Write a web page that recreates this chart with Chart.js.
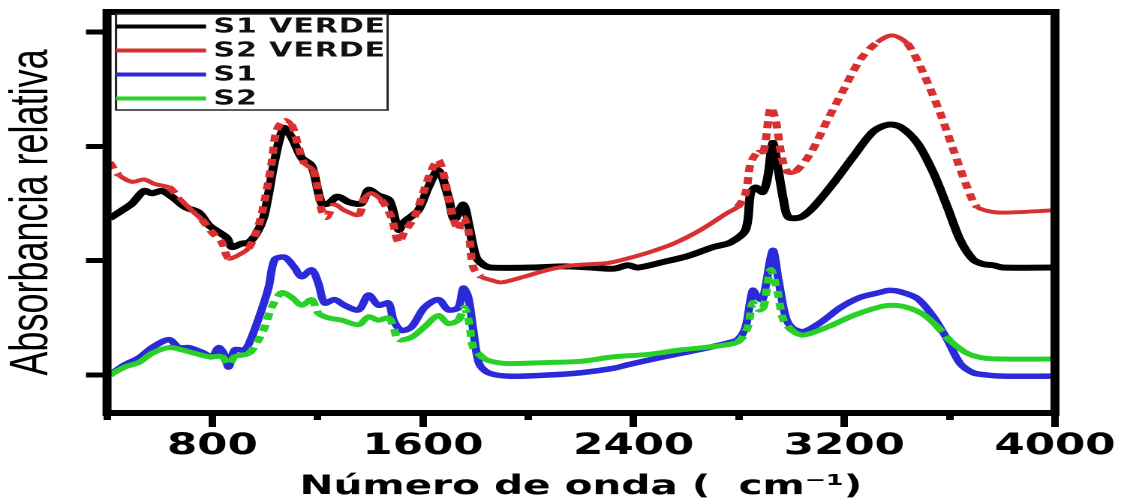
<!DOCTYPE html>
<html>
<head>
<meta charset="utf-8">
<script src="https://cdn.jsdelivr.net/npm/chart.js@4.4.0/dist/chart.umd.min.js"></script>
<style>
  html, body { margin: 0; padding: 0; background: #fff; overflow: hidden; }
  /* the figure is horizontally stretched, so draw narrow and stretch it */
  #wrap { width: 747px; height: 503px; transform: scaleX(1.5007); transform-origin: 0 0; }
</style>
</head>
<body>
<div id="wrap"><canvas id="myChart"></canvas></div>
<script>
// wavenumber (cm-1) and relative absorbance
const s1VerdeX = [410, 457, 495, 540, 571, 608, 646, 696, 749, 787, 824, 855, 874, 912, 938, 968, 995, 1014, 1037, 1071,
  1101, 1139, 1177, 1215, 1241, 1275, 1321, 1366, 1393, 1431, 1472, 1507, 1529, 1582, 1620, 1658, 1696, 1719, 1753, 1776,
  1802, 1832, 1859, 2011, 2136, 2238, 2325, 2378, 2416, 2515, 2605, 2704, 2768, 2825, 2844, 2863, 2890, 2909, 2928, 2947,
  2969, 2988, 3034, 3083, 3159, 3234, 3310, 3367, 3413, 3477, 3538, 3591, 3640, 3689, 3727, 3765, 3803, 3995]
const s1VerdeY = [1.37, 1.44, 1.50, 1.61, 1.59, 1.61, 1.56, 1.47, 1.42, 1.31, 1.25, 1.20, 1.12, 1.15, 1.16, 1.24, 1.38, 1.59, 1.88, 2.16,
  2.08, 1.90, 1.83, 1.50, 1.50, 1.56, 1.51, 1.50, 1.62, 1.57, 1.53, 1.27, 1.34, 1.44, 1.64, 1.79, 1.56, 1.36, 1.49, 1.29,
  1.03, 0.96, 0.94, 0.94, 0.95, 0.94, 0.93, 0.96, 0.94, 0.99, 1.04, 1.12, 1.16, 1.27, 1.59, 1.64, 1.60, 1.73, 2.03, 1.82,
  1.53, 1.38, 1.38, 1.47, 1.68, 1.91, 2.13, 2.19, 2.17, 2.03, 1.77, 1.47, 1.18, 1.01, 0.97, 0.96, 0.94, 0.94]

const s2VerdeX = [410, 445, 495, 540, 582, 635, 673, 722, 760, 798, 836, 862, 900, 938, 976, 999, 1025, 1044, 1075, 1101,
  1128, 1150, 1184, 1215, 1234, 1264, 1302, 1355, 1378, 1404, 1442, 1480, 1507, 1529, 1567, 1605, 1632, 1658, 1681, 1707,
  1734, 1753, 1772, 1791, 1821, 1859, 1897, 1984, 2075, 2173, 2302, 2378, 2454, 2552, 2655, 2757, 2795, 2825, 2844, 2871,
  2893, 2920, 2939, 2965, 2988, 3015, 3072, 3136, 3196, 3261, 3325, 3382, 3439, 3500, 3564, 3614, 3667, 3704, 3754, 3803, 3995]
const s2VerdeY = [1.86, 1.75, 1.69, 1.71, 1.67, 1.64, 1.55, 1.44, 1.36, 1.25, 1.16, 1.02, 1.05, 1.11, 1.31, 1.53, 1.85, 2.14, 2.23, 2.19,
  1.99, 1.85, 1.79, 1.44, 1.38, 1.49, 1.44, 1.40, 1.55, 1.59, 1.53, 1.38, 1.16, 1.25, 1.38, 1.62, 1.79, 1.88, 1.73, 1.44,
  1.27, 1.38, 1.27, 0.94, 0.86, 0.83, 0.81, 0.86, 0.92, 0.96, 0.98, 1.02, 1.07, 1.15, 1.27, 1.42, 1.47, 1.59, 1.85, 1.95,
  1.95, 2.34, 2.23, 1.88, 1.77, 1.78, 1.94, 2.23, 2.49, 2.76, 2.91, 2.97, 2.90, 2.64, 2.29, 1.97, 1.64, 1.47, 1.43, 1.42, 1.44]

const s1X = [410, 468, 521, 571, 635, 673, 711, 760, 798, 824, 843, 862, 885, 923, 949, 987, 1014, 1037, 1075, 1112,
  1139, 1177, 1203, 1226, 1264, 1302, 1355, 1393, 1431, 1469, 1488, 1518, 1556, 1605, 1658, 1696, 1734, 1753, 1772, 1791,
  1813, 1848, 1923, 2075, 2200, 2325, 2378, 2515, 2643, 2757, 2795, 2825, 2852, 2871, 2890, 2928, 2950, 2977, 3003, 3045,
  3110, 3185, 3261, 3330, 3370, 3410, 3477, 3538, 3591, 3640, 3689, 3742, 3803, 3995]
const s1Y = [0.00, 0.09, 0.15, 0.24, 0.31, 0.24, 0.24, 0.20, 0.16, 0.24, 0.19, 0.07, 0.22, 0.22, 0.33, 0.57, 0.77, 1.01, 1.03, 0.94,
  0.86, 0.92, 0.80, 0.63, 0.66, 0.61, 0.57, 0.70, 0.61, 0.63, 0.48, 0.39, 0.42, 0.59, 0.66, 0.57, 0.59, 0.76, 0.68, 0.39,
  0.10, 0.02, -0.01, 0.00, 0.02, 0.06, 0.09, 0.16, 0.22, 0.28, 0.31, 0.42, 0.74, 0.68, 0.66, 1.09, 0.83, 0.51, 0.41, 0.38,
  0.46, 0.59, 0.68, 0.72, 0.74, 0.73, 0.67, 0.51, 0.31, 0.10, 0.02, 0.00, -0.01, -0.01]

const s2X = [410, 468, 521, 571, 635, 684, 733, 787, 836, 862, 885, 938, 976, 999, 1025, 1063, 1101, 1139, 1177, 1203,
  1241, 1291, 1355, 1393, 1431, 1469, 1488, 1507, 1556, 1605, 1658, 1696, 1734, 1757, 1776, 1791, 1829, 1859, 1923, 2075,
  2200, 2325, 2454, 2579, 2704, 2795, 2833, 2852, 2875, 2893, 2920, 2947, 2969, 3007, 3045, 3136, 3234, 3325, 3380, 3440,
  3500, 3550, 3602, 3667, 3727, 3803, 3995]
const s2Y = [0.00, 0.07, 0.11, 0.19, 0.24, 0.22, 0.19, 0.16, 0.16, 0.09, 0.16, 0.19, 0.31, 0.42, 0.59, 0.72, 0.68, 0.61, 0.66, 0.54,
  0.50, 0.48, 0.44, 0.51, 0.48, 0.50, 0.42, 0.31, 0.33, 0.42, 0.52, 0.45, 0.48, 0.59, 0.45, 0.24, 0.15, 0.12, 0.10, 0.11,
  0.12, 0.16, 0.18, 0.22, 0.25, 0.29, 0.42, 0.63, 0.57, 0.59, 0.92, 0.72, 0.48, 0.38, 0.35, 0.42, 0.52, 0.59, 0.61, 0.59,
  0.53, 0.43, 0.30, 0.19, 0.15, 0.14, 0.14]

const seriesNames = ['S1 VERDE', 'S2 VERDE', 'S1', 'S2']
const xTickValues = [400, 800, 1200, 1600, 2000, 2400, 2800, 3200, 3600, 4000]
const xTickLabels = [800, 1600, 2400, 3200, 4000]
const yTickValues = [0, 1, 2, 3]

const toPoints = (xs, ys) => xs.map((x, i) => ({ x: x, y: ys[i] }))

// steep parts of the red and green traces look dotted in the figure
const steep = c => Math.abs(c.p1.y - c.p0.y) > 1.5 * Math.abs(c.p1.x - c.p0.x)
const dottedWhenSteep = w => ({
  borderDash: c => steep(c) ? [7, 5] : undefined,
  borderWidth: c => steep(c) ? w : undefined
})

const frame = {
  id: 'frame',
  afterDatasetsDraw(chart) {
    const { ctx, chartArea: a } = chart
    ctx.save()
    ctx.strokeStyle = '#000'
    ctx.lineWidth = 6
    ctx.strokeRect(a.left, a.top, a.right - a.left, a.bottom - a.top)
    ctx.restore()
  }
}

const legendBox = {
  id: 'legendBox',
  afterDraw(chart) {
    const { ctx, chartArea: a } = chart
    const x0 = a.left + 6, y0 = 14, w = 181, h = 96
    ctx.save()
    ctx.fillStyle = '#fff'
    ctx.fillRect(x0, y0, w, h)
    ctx.strokeStyle = '#222'
    ctx.lineWidth = 1.5
    ctx.strokeRect(x0, y0, w, h)
    chart.data.datasets.forEach((ds, i) => {
      const y = y0 + 12.5 + i * 24
      ctx.strokeStyle = ds.borderColor
      ctx.lineWidth = 4
      ctx.beginPath()
      ctx.moveTo(x0, y)
      ctx.lineTo(x0 + 60, y)
      ctx.stroke()
      ctx.fillStyle = '#111'
      ctx.font = 'bold 20px "DejaVu Sans"'
      ctx.letterSpacing = '0.6px'
      ctx.textBaseline = 'middle'
      ctx.fillText(ds.label, x0 + 65, y + 1)
    })
    ctx.restore()
  }
}

new Chart(document.getElementById('myChart'), {
  type: 'line',
  data: {
    datasets: [
      { label: seriesNames[0], data: toPoints(s1VerdeX, s1VerdeY), borderColor: '#000000', borderWidth: 6, order: 4 },
      { label: seriesNames[1], data: toPoints(s2VerdeX, s2VerdeY), borderColor: '#d83030', borderWidth: 4, order: 3,
        segment: dottedWhenSteep(5.5) },
      { label: seriesNames[2], data: toPoints(s1X, s1Y), borderColor: '#2a2ad8', borderWidth: 5.5, order: 2 },
      { label: seriesNames[3], data: toPoints(s2X, s2Y), borderColor: '#28d028', borderWidth: 5, order: 1,
        segment: dottedWhenSteep(5.5) }
    ]
  },
  options: {
    responsive: true,
    maintainAspectRatio: false,
    animation: false,
    devicePixelRatio: 2,
    layout: { padding: { top: 12, right: 44, left: 0, bottom: 0 } },
    elements: { point: { radius: 0 }, line: { tension: 0.3, fill: false } },
    plugins: { legend: { display: false }, tooltip: { enabled: false } },
    scales: {
      x: {
        type: 'linear',
        min: 400,
        max: 4000,
        afterBuildTicks: s => { s.ticks = xTickValues.map(v => ({ value: v })) },
        afterFit: s => { s.height = 90; s.paddingLeft = 0; s.paddingRight = 0 },
        border: { display: false },
        grid: {
          drawOnChartArea: false,
          tickLength: 14,
          tickWidth: 5,
          tickColor: '#000',
          tickBorderDash: c => (c.tick && !xTickLabels.includes(c.tick.value)) ? [7, 30] : []
        },
        ticks: {
          autoSkip: false,
          maxRotation: 0,
          minRotation: 0,
          padding: 2,
          color: '#000',
          font: { family: 'DejaVu Sans', weight: 'bold', size: 29 },
          callback: v => xTickLabels.includes(v) ? String(v) : ''
        },
        title: {
          display: true,
          text: 'Número de onda (  cm⁻¹)',
          color: '#000',
          padding: 0,
          font: { family: 'DejaVu Sans', weight: 'bold', size: 27 }
        }
      },
      y: {
        min: -0.332,
        max: 3.175,
        afterBuildTicks: s => { s.ticks = yTickValues.map(v => ({ value: v })) },
        afterFit: s => { s.width = 71.3; s.paddingTop = 0; s.paddingBottom = 0 },
        border: { display: false },
        grid: { drawOnChartArea: false, tickLength: 14, tickWidth: 5, tickColor: '#000' },
        ticks: { display: false },
        title: {
          display: true,
          text: 'Absorbancia relativa',
          color: '#000',
          padding: 0,
          font: { family: 'Liberation Sans', size: 36 }
        }
      }
    }
  },
  plugins: [frame, legendBox]
});
</script>
</body>
</html>
